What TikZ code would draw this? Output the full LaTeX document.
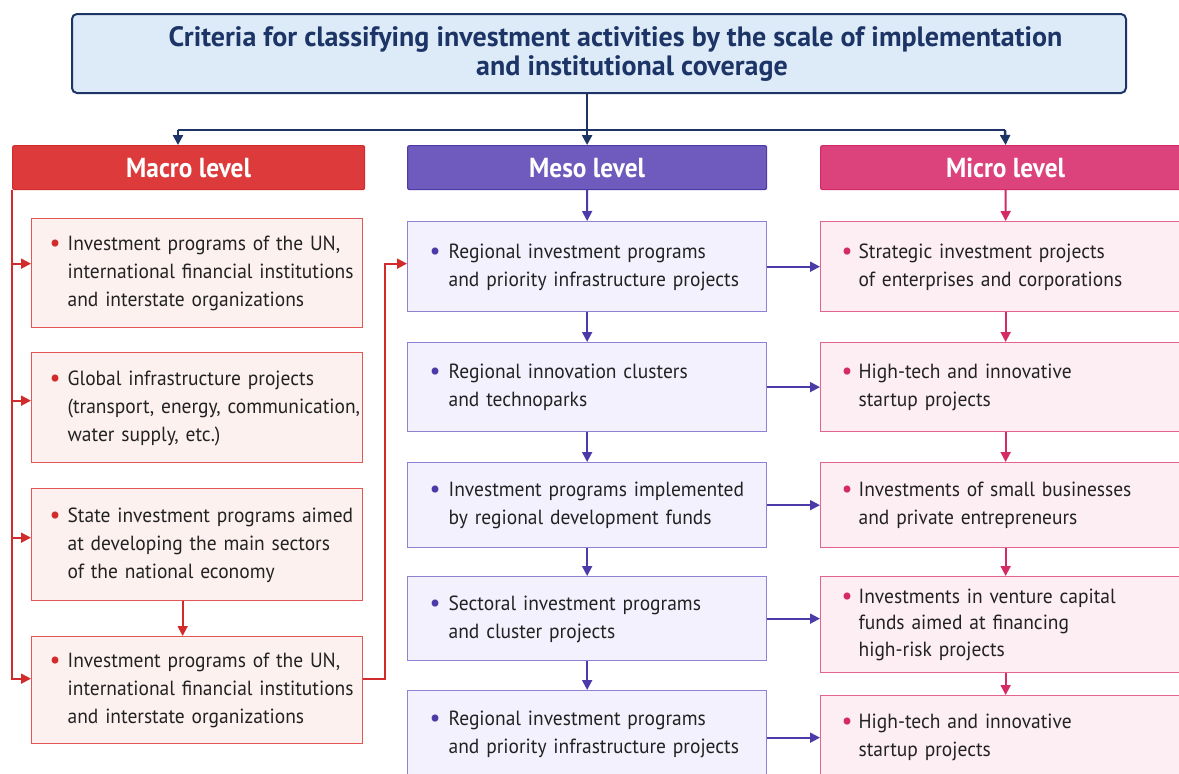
\documentclass[tikz,border=0pt]{standalone}
\usepackage{fontspec}
\setmainfont{PT Sans}
\newfontfamily\bodyfont[FakeStretch=0.95]{PT Sans}
\newfontfamily\headfont[FakeStretch=0.92]{PT Sans}
\usetikzlibrary{arrows.meta,calc}

\definecolor{navy}{HTML}{1C3466}
\definecolor{titlefill}{HTML}{DDEBF8}
\definecolor{txt}{HTML}{222222}
\definecolor{macred}{HTML}{DD3B3B}
\definecolor{macredline}{HTML}{D22B2B}
\definecolor{macfill}{HTML}{FDF1F0}
\definecolor{macborder}{HTML}{E35656}
\definecolor{mespurple}{HTML}{6E5BBD}
\definecolor{mesline}{HTML}{4B3BA8}
\definecolor{mesfill}{HTML}{F3F1FD}
\definecolor{mesborder}{HTML}{8F82D2}
\definecolor{micpink}{HTML}{DC427B}
\definecolor{micline}{HTML}{D42A66}
\definecolor{micfill}{HTML}{FDEEF4}
\definecolor{micborder}{HTML}{E3658F}

% bullet followed by a block of lines
\newcommand{\bulletblock}[3]{%
  \makebox[#1][l]{\textcolor{#2}{\raisebox{-0.8pt}{\scalebox{1.25}{\textbullet}}}}%
  \begin{tabular}[t]{@{}l@{}}#3\end{tabular}}

\tikzset{
  tip/.style={-{Triangle[length=10pt,width=10pt]}},
  titlebox/.style={draw=navy, line width=2pt, fill=titlefill, rounded corners=5pt,
    anchor=north west, align=center, text=navy,
    font=\fontsize{28}{29}\selectfont\bfseries},
  hdr/.style={draw, line width=1.2pt, rounded corners=2pt, anchor=north west,
    minimum height=44pt, text=white, font=\headfont\fontsize{27.5}{28}\selectfont\bfseries},
  itembox/.style={draw, line width=1.3pt, anchor=north west, inner ysep=0pt,
    align=left, text=txt, font=\bodyfont\fontsize{20.5}{28}\selectfont},
  macbox/.style={itembox, draw=macborder, fill=macfill, inner xsep=18pt, text width=295pt},
  mesbox/.style={itembox, draw=mesborder, fill=mesfill, inner xsep=22pt, text width=315pt},
  micbox/.style={itembox, draw=micborder, fill=micfill, inner xsep=21pt, text width=328pt},
  navyln/.style={draw=navy, line width=2.4pt},
  navyarrow/.style={navyln, tip},
  redarrow/.style={draw=macredline, line width=1.8pt, tip},
  purparrow/.style={draw=mesline, line width=1.8pt, tip},
  pinkarrow/.style={draw=micline, line width=1.8pt, tip},
}

\newcommand{\macitem}[1]{\bulletblock{18pt}{macredline}{#1}}
\newcommand{\mesitem}[1]{\bulletblock{19pt}{mesline}{#1}}
\newcommand{\micitem}[1]{\bulletblock{17pt}{micline}{#1}}

\begin{document}
\begin{tikzpicture}[x=1pt,y=-1pt]
\useasboundingbox (0,0) rectangle (1179,774);
\fill[white] (0,0) rectangle (1179,774);

% title
\node[titlebox, minimum width=1054pt, minimum height=79pt] (title) at (71,13)
  {\hspace*{33pt}Criteria for classifying investment activities by the scale of implementation\\
   \hspace*{66pt}and institutional coverage};

% level headers
\node[hdr, draw=macredline, fill=macred, minimum width=352pt] (hmac) at (12,145) {Macro level};
\node[hdr, draw=mesline, fill=mespurple, minimum width=359pt] (hmes) at (407,145) {Meso level};
\node[hdr, draw=micline, fill=micpink, minimum width=370pt] (hmic) at (820,145) {Micro level};

% macro column
\node[macbox, minimum height=109pt] (a1) at (31,218) {\macitem{Investment programs of the UN,\\international financial institutions\\and interstate organizations}};
\node[macbox, minimum height=110pt] (a2) at (31,352) {\macitem{Global infrastructure projects\\(transport, energy, communication,\\water supply, etc.)}};
\node[macbox, minimum height=112pt] (a3) at (31,488) {\macitem{State investment programs aimed\\at developing the main sectors\\of the national economy}};
\node[macbox, minimum height=107pt] (a4) at (31,636) {\macitem{Investment programs of the UN,\\international financial institutions\\and interstate organizations}};

% meso column
\node[mesbox, minimum height=90pt] (m1) at (407,221) {\mesitem{Regional investment programs\\and priority infrastructure projects}};
\node[mesbox, minimum height=89pt] (m2) at (407,342) {\mesitem{Regional innovation clusters\\and technoparks}};
\node[mesbox, minimum height=85pt] (m3) at (407,462) {\mesitem{Investment programs implemented\\by regional development funds}};
\node[mesbox, minimum height=84pt] (m4) at (407,576) {\mesitem{Sectoral investment programs\\and cluster projects}};
\node[mesbox, minimum height=86pt] (m5) at (407,690) {\mesitem{Regional investment programs\\and priority infrastructure projects}};

% micro column
\node[micbox, minimum height=90pt] (p1) at (820,221) {\micitem{Strategic investment projects\\of enterprises and corporations}};
\node[micbox, minimum height=89pt] (p2) at (820,342) {\micitem{High-tech and innovative\\startup projects}};
\node[micbox, minimum height=85pt] (p3) at (820,462) {\micitem{Investments of small businesses\\and private entrepreneurs}};
\node[micbox, minimum height=96pt, font=\bodyfont\fontsize{20.5}{26.5}\selectfont] (p4) at (820,576) {\micitem{Investments in venture capital\\funds aimed at financing\\high-risk projects}};
\node[micbox, minimum height=83pt] (p5) at (820,695) {\micitem{High-tech and innovative\\startup projects}};

% title to headers
\coordinate (jl) at (178,130);
\coordinate (jr) at (1005,130);
\draw[navyln] (jl) -- (jr);
\draw[navyarrow] (title.south -| hmes.north) -- (hmes.north);
\draw[navyarrow] (jl) -- (jl |- hmac.north);
\draw[navyarrow] (jr) -- (hmic.north);

% macro connectors
\coordinate (r1) at ($(a1.west)+(0,-9.5)$);
\coordinate (r2) at ($(a2.west)+(0,-7)$);
\coordinate (r3) at ($(a3.west)+(0,-7)$);
\coordinate (r4) at ($(a4.west)+(0,-11.5)$);
\draw[redarrow] (hmac.south west) |- (r4);
\draw[redarrow] (hmac.south west |- r1) -- (r1);
\draw[redarrow] (hmac.south west |- r2) -- (r2);
\draw[redarrow] (hmac.south west |- r3) -- (r3);
\draw[redarrow] ($(a3.south)+(-14.5,0)$) -- ($(a4.north)+(-14.5,0)$);
\coordinate (r4e) at (a4.east |- r4);
\coordinate (q1) at ($(m1.west)+(0,-3)$);
\draw[redarrow] (r4e) -- ++(22,0) |- (q1);

% meso connectors
\draw[purparrow] (hmes.south) -- (m1.north);
\draw[purparrow] (m1.south) -- (m2.north);
\draw[purparrow] (m2.south) -- (m3.north);
\draw[purparrow] (m3.south) -- (m4.north);
\draw[purparrow] (m4.south) -- (m5.north);
\draw[purparrow] (m1.east) -- (m1.east -| p1.west);
\draw[purparrow] (m2.east) -- (m2.east -| p2.west);
\draw[purparrow] (m3.east) -- (m3.east -| p3.west);
\draw[purparrow] (m4.east) -- (m4.east -| p4.west);
\draw[purparrow] ($(m5.east)+(0,4)$) -- ($(m5.east -| p5.west)+(0,4)$);

% micro connectors
\draw[pinkarrow] (hmic.south) -- (p1.north);
\draw[pinkarrow] (p1.south) -- (p2.north);
\draw[pinkarrow] (p2.south) -- (p3.north);
\draw[pinkarrow] (p3.south) -- (p4.north);
\draw[pinkarrow] (p4.south) -- (p5.north);
\end{tikzpicture}
\end{document}
